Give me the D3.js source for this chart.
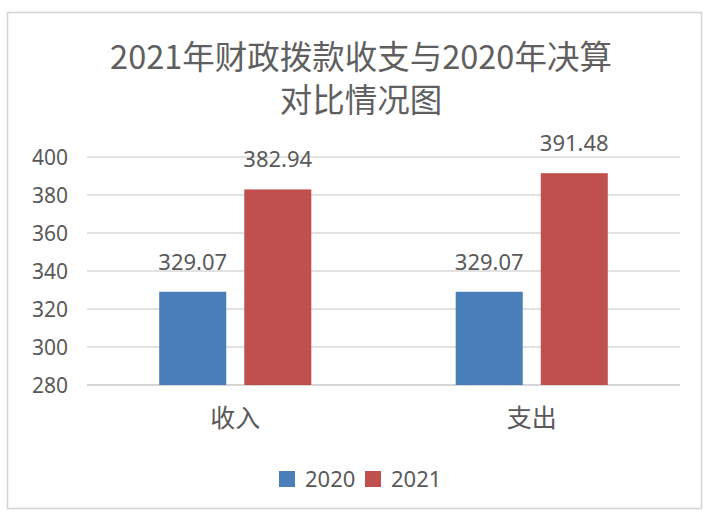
<!DOCTYPE html>
<html>
<head>
<meta charset="utf-8">
<script src="https://cdn.jsdelivr.net/npm/d3@7/dist/d3.min.js"></script>
<style>
  html, body { margin: 0; padding: 0; background: #fff; }
  svg { display: block; }
</style>
</head>
<body>
<svg id="chart" width="706" height="514"></svg>
<script>
const titleLines = ["2021年财政拨款收支与2020年决算", "对比情况图"];
const categories = ["收入", "支出"];
const seriesNames = ["2020", "2021"];
const values2020 = [329.07, 329.07];
const values2021 = [382.94, 391.48];
const yTicks = [280, 300, 320, 340, 360, 380, 400];
const colors = ["#4a7ebb", "#c0504d"];

const seriesValues = [values2020, values2021];
const svg = d3.select("#chart");
const font = "'Noto Sans', 'Noto Sans CJK SC', sans-serif";
const textColor = "#595959";

// chart frame
svg.append("rect")
  .attr("x", 7.5).attr("y", 12.5).attr("width", 694).attr("height", 496)
  .attr("fill", "#fff").attr("stroke", "#d4d4d4").attr("stroke-width", 1.5);

// title
svg.append("g").selectAll("text").data(titleLines).join("text")
  .attr("x", 361).attr("y", (d, i) => 54 + i * 43)
  .attr("text-anchor", "middle").attr("dominant-baseline", "central")
  .attr("font-family", "'Noto Sans CJK SC', 'Noto Sans', sans-serif")
  .attr("font-size", 32.5).attr("fill", "#5f5f5f")
  .text(d => d);

const margin = { left: 87, right: 680, top: 157, bottom: 385 };
const y = d3.scaleLinear().domain([280, 400]).range([margin.bottom, margin.top]);
const x0 = d3.scaleBand().domain(categories).range([margin.left, margin.right])
  .paddingInner(0.487).paddingOuter(0.2435);
const x1 = d3.scaleBand().domain(seriesNames).range([0, x0.bandwidth()])
  .paddingInner(0.212).paddingOuter(0);

// gridlines
svg.append("g").selectAll("line").data(yTicks).join("line")
  .attr("x1", margin.left).attr("x2", margin.right)
  .attr("y1", d => y(d)).attr("y2", d => y(d))
  .attr("stroke", d => d === 280 ? "#c8c8c8" : "#d9d9d9").attr("stroke-width", 1.5);

// y axis labels
const yAxis = d3.axisLeft(y).tickValues(yTicks).tickSize(0).tickPadding(0);
const yg = svg.append("g").attr("transform", "translate(68,0)").call(yAxis);
yg.select(".domain").remove();
yg.selectAll("text").attr("font-family", font).attr("font-size", 21)
  .attr("fill", textColor).attr("dy", "0.35em");

// x axis labels
const xAxis = d3.axisBottom(x0).tickSize(0).tickPadding(0);
const xg = svg.append("g").attr("transform", "translate(0,418)").call(xAxis);
xg.select(".domain").remove();
xg.selectAll("text").attr("font-family", "'Noto Sans CJK SC', sans-serif")
  .attr("font-size", 25).attr("fill", textColor).attr("dy", "0.35em");

// bars
const data = [];
categories.forEach((c, ci) => {
  seriesNames.forEach((s, si) => {
    data.push({ cat: c, series: s, value: seriesValues[si][ci], color: colors[si] });
  });
});

svg.append("g").selectAll("rect").data(data).join("rect")
  .attr("x", d => x0(d.cat) + x1(d.series))
  .attr("y", d => y(d.value))
  .attr("width", x1.bandwidth())
  .attr("height", d => y(280) - y(d.value))
  .attr("fill", d => d.color);

// value labels
svg.append("g").selectAll("text").data(data).join("text")
  .attr("x", d => x0(d.cat) + x1(d.series) + x1.bandwidth() / 2)
  .attr("y", d => y(d.value) - 22)
  .attr("text-anchor", "middle")
  .attr("font-family", font).attr("font-size", 22).attr("fill", textColor)
  .text(d => d.value.toFixed(2));

// legend
const legendX = [279, 365];
const lg = svg.append("g").selectAll("g").data(seriesNames).join("g")
  .attr("transform", (d, i) => `translate(${legendX[i]},471)`);
lg.append("rect").attr("width", 16).attr("height", 16).attr("fill", (d, i) => colors[i]);
lg.append("text").attr("x", 26).attr("y", 8).attr("dy", "0.35em")
  .attr("font-family", font).attr("font-size", 22).attr("fill", textColor)
  .text(d => d);
</script>
</body>
</html>
